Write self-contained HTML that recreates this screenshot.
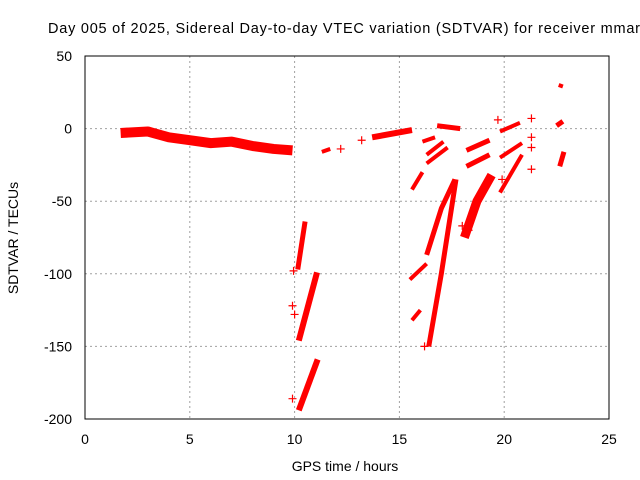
<!DOCTYPE html>
<html><head><meta charset="utf-8"><style>
body{margin:0;background:#fff}
svg{display:block;font-family:"Liberation Sans",sans-serif}
</style></head><body>
<svg id="c" width="640" height="480">
<text x="48" y="33" font-size="14.5" fill="#000" textLength="592" lengthAdjust="spacing">Day 005 of 2025, Sidereal Day-to-day VTEC variation (SDTVAR) for receiver mmar</text>
<text x="345" y="471" font-size="14" text-anchor="middle">GPS time / hours</text>
<text transform="translate(18,238) rotate(-90)" font-size="14" text-anchor="middle">SDTVAR / TECUs</text>
<g id="grid"></g><g id="marks"></g>
<rect x="85" y="56" width="524" height="363" fill="none" stroke="#000"/>
</svg>
<script>
const xTicks=[0,5,10,15,20,25];
const yTicks=[50,0,-50,-100,-150,-200];
// each arc: list of [hour, value]
const arcs=[
 [[1.7,-3],[3,-2],[4,-6],[5,-8],[6,-10],[7,-9],[8,-12],[9,-14],[9.9,-15]],
 [[10.15,-97],[10.5,-64]],
 [[10.2,-146],[11.07,-99]],
 [[10.2,-194],[11.1,-159]],
 [[11.3,-16],[11.7,-14]],
 [[13.7,-6],[15.6,-1]],
 [[16.8,2],[17.9,0]],
 [[16.4,-150],[17.0,-100],[17.7,-35]],
 [[16.3,-87],[17.0,-55],[17.65,-35]],
 [[18.1,-75],[18.7,-50],[19.4,-32]],
 [[19.8,-44],[20.85,-18]],
 [[18.2,-15],[19.3,-8]],
 [[18.2,-26],[19.3,-18]],
 [[19.8,-20],[20.85,-10]],
 [[19.8,-2],[20.75,4]],
 [[15.5,-104],[16.3,-93]],
 [[15.6,-132],[16.0,-125]],
 [[15.6,-42],[16.1,-30]],
 [[16.3,-24],[17.3,-13]],
 [[16.3,-18],[17.1,-9]],
 [[16.1,-9],[16.7,-6]],
 [[22.65,-26],[22.85,-16]],
 [[22.5,2],[22.8,5]],
 [[22.6,30],[22.8,29]]
];
const arcWidths=[10,5,6,6,4,6,5,5,5,9,4,5,5,4,4,4,4,4,4,4,4,5,5,4];
const ptsX=[9.9,9.95,10.0,9.9,13.2,12.2,19.7,21.3,21.3,21.3,21.3,19.9,18.3,16.2,18.0];
const ptsY=[-122,-98,-128,-186,-8,-14,6,7,-6,-13,-28,-35,-70,-150,-67];
const sx=h=>85+h*524/25, sy=v=>56+(50-v)*363/250;
const NS='http://www.w3.org/2000/svg';
const g=document.getElementById('grid'), m=document.getElementById('marks');
function mk(t,a,p){const e=document.createElementNS(NS,t);for(const k in a)e.setAttribute(k,a[k]);p.appendChild(e);return e;}
xTicks.forEach(t=>{
 if(t>0&&t<25){const l=mk('line',{x1:sx(t),x2:sx(t),y1:56,y2:419,stroke:'#a0a0a0','stroke-dasharray':'2,3'},g);
 
 }
 const tx=mk('text',{x:sx(t),y:444,'font-size':14,'text-anchor':'middle'},g);tx.textContent=t;
 
 
});
yTicks.forEach(t=>{
 if(t<50&&t>-200){const l=mk('line',{x1:85,x2:609,y1:sy(t),y2:sy(t),stroke:'#a0a0a0','stroke-dasharray':'2,3'},g);
 
 }
 const tx=mk('text',{x:72,y:sy(t)+5,'font-size':14,'text-anchor':'end'},g);tx.textContent=t;
 
 
});
arcs.forEach((a,i)=>{
 const p=mk('polyline',{points:a.map(q=>sx(q[0])+','+sy(q[1])).join(' '),fill:'none',stroke:'#ff0000','stroke-width':arcWidths[i],'stroke-linecap':'butt','stroke-linejoin':'round'},m);
 
 
});
ptsX.forEach((x,i)=>{
 const X=sx(x),Y=sy(ptsY[i]);
 const p=mk('path',{d:`M${X-4},${Y}H${X+4}M${X},${Y-4}V${Y+4}`,stroke:'#ff0000','stroke-width':1.2},m);
 
 
});
</script>
</body></html>
